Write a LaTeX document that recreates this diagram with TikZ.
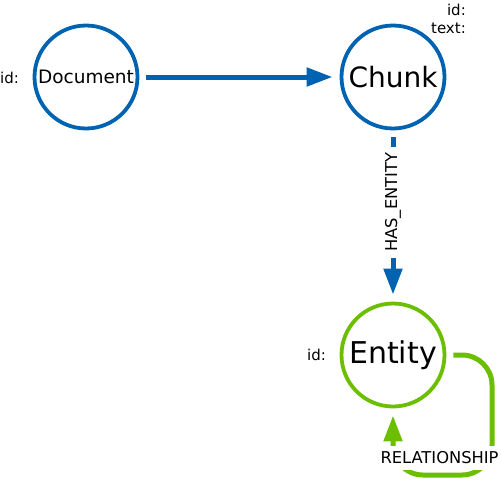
\documentclass[tikz,border=0pt]{standalone}
\usepackage{fontspec}
\setmainfont{DejaVu Sans}
\usetikzlibrary{arrows.meta}
\definecolor{docblue}{RGB}{0,99,177}
\definecolor{entgreen}{RGB}{108,190,0}
\tikzset{
	labelnode/.style={circle,draw=#1,line width=3.8pt,minimum size=103pt,inner sep=0pt},
	propnode/.style={inner sep=0pt,font=\fontsize{15}{18}\selectfont},
	rel/.style={draw=#1,line width=5pt,-{Triangle[length=26pt,width=18pt]},shorten <=7pt,shorten >=7pt},
	rellabel/.style={fill=white,inner xsep=3pt,inner ysep=6pt,font=\fontsize{16.3}{19}\selectfont}
}
\begin{document}
\begin{tikzpicture}[x=1pt,y=-1pt]
				\useasboundingbox (0,0) rectangle (501,482);
				% nodes
				\node[labelnode=docblue,font=\fontsize{18.5}{22}\selectfont] (Document) at (86,77) {Document};
				\node[labelnode=docblue,font=\fontsize{28}{32}\selectfont] (Chunk) at (393,77) {Chunk};
				\node[labelnode=entgreen,font=\fontsize{30}{34}\selectfont] (Entity) at (393,355) {Entity};
				
				% properties
				\node[propnode,anchor=base west] (docId) at (0,83) {id:};
				\node[propnode,anchor=base east] (chunkId) at (466,15) {id:};
				\node[propnode,anchor=base east] (chunkText) at (466,33) {text:};
				\node[propnode,anchor=base west] (entId) at (307,360) {id:};
				
				% relationships
				\draw[rel=docblue] (Document) -- (Chunk);
				\draw[rel=docblue] (Chunk) -- node[rellabel,inner xsep=6pt,rotate=90,pos=.42] (hasEntity) {HAS\_ENTITY} (Entity);
				\draw[rel=entgreen,rounded corners=30pt]
				(Entity.east) -- (492,355) -- (492,475) -- (393,475) -- (Entity.south);
				\node[rellabel] (relLabel) at (439.5,458) {RELATIONSHIP};
	\end{tikzpicture}
\end{document}
